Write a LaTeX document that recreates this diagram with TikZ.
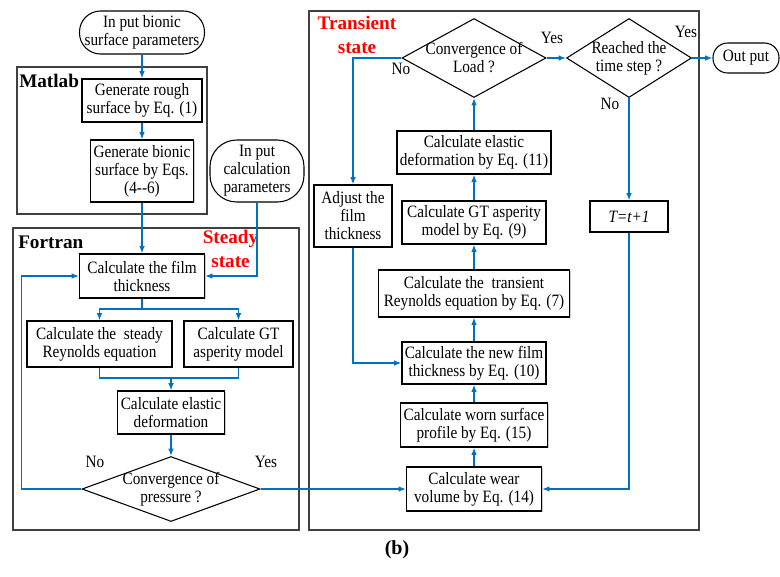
\documentclass[tikz,border=0pt]{standalone}
\usepackage{fontspec}
\setmainfont{Liberation Serif}
\newfontfamily\narrowserif[FakeStretch=0.88]{Liberation Serif}
\usetikzlibrary{arrows.meta,shapes.geometric,shadows}
\definecolor{flow}{RGB}{0,112,192}
\definecolor{frame}{RGB}{64,64,64}
\begin{document}
\begin{tikzpicture}[x=0.75pt,y=-0.75pt,
  every node/.style={font=\narrowserif\fontsize{13}{13.5}\selectfont},
  sz/.style 2 args={minimum width=#1*0.75pt, minimum height=#2*0.75pt},
  box/.style={rectangle, draw=black, line width=0.8pt, fill=white, align=center, inner sep=0pt,
    drop shadow={shadow xshift=1pt, shadow yshift=-1pt, fill=black, opacity=0.2}},
  oval/.style={rectangle, draw=black, line width=0.8pt, fill=white, align=center, inner sep=0pt},
  dia/.style={diamond, draw=black, line width=0.8pt, fill=white, inner sep=0pt},
  dtext/.style={font=\narrowserif\fontsize{13}{13.5}\selectfont, align=center},
  group/.style={draw=frame, line width=0.9pt},
  grplabel/.style={font=\rmfamily\fontsize{14.4}{18}\selectfont\bfseries, align=center, inner sep=0pt},
  redlabel/.style={grplabel, text=red},
  lbl/.style={inner sep=0pt},
  flowline/.style={draw=flow, line width=1.25pt},
  arr/.style={flowline, -{Latex[length=5.5pt,width=4.2pt]}}
]
\useasboundingbox (0,0) rectangle (780,576);

% group frames
\draw[group] (17,67) rectangle (207,214);
\draw[group] (13,228) rectangle (299,530);
\draw[group] (309,11) rectangle (699,530);

\node[grplabel, anchor=west] (lmatlab) at (19,81) {Matlab};
\node[grplabel, anchor=west] (lfortran) at (18,242) {Fortran};
\node[redlabel] (lsteady) at (230.5,249) {Steady\\state};
\node[redlabel] (ltrans) at (357,35) {Transient\\state};

% left column
\node[oval, rounded corners=15.75pt, sz={125}{43}] (in1) at (142,32.5) {In put bionic\\surface parameters};
\node[box, sz={120}{43}] (gr) at (142,100.5) {Generate rough\\surface by Eq. (1)};
\node[box, sz={103}{62}] (gb) at (142,171) {Generate bionic\\surface by Eqs.\\(4-{}-6)};
\node[oval, rounded corners=20pt, sz={94}{62}] (in2) at (257,171) {In put\\calculation\\parameters};
\node[box, sz={125}{44}] (film) at (142,276) {Calculate the film\\thickness};
\node[box, sz={145}{46}] (rey) at (99.5,344) {Calculate the~~steady\\Reynolds equation};
\node[box, sz={109}{46}] (gt) at (238.5,344) {Calculate GT\\asperity model};
\node[box, sz={107}{43}] (el) at (171,412.5) {Calculate elastic\\deformation};
\node[dia, sz={178}{65}, label={[dtext]center:Convergence of\\pressure ?}] (dp) at (171,489) {};
\node[lbl] (dpno) at (95,462) {No};
\node[lbl] (dpyes) at (266,462) {Yes};

% transient column
\node[dia, sz={144}{79}, label={[dtext]center:Convergence of\\Load ?}] (ld) at (474,58) {};
\node[dia, sz={125}{79}, label={[dtext]center:Reached the\\time step ?}] (ts) at (629,58) {};
\node[oval, rounded corners=11pt, sz={66}{30}] (out) at (746,58) {Out put};
\node[lbl] (ldno) at (401,69) {No};
\node[lbl] (ldyes) at (552,38) {Yes};
\node[lbl] (tsyes) at (686,32) {Yes};
\node[lbl] (tsno) at (610,104) {No};
\node[box, sz={154}{43}] (el11) at (474,152.5) {Calculate elastic\\deformation by Eq. (11)};
\node[box, sz={78}{62}] (adj) at (353,216) {Adjust the\\film\\thickness};
\node[box, sz={144}{43}] (gt9) at (474,222.5) {Calculate GT asperity\\model by Eq. (9)};
\node[box, sz={78}{31}] (tt) at (629,216.5) {\itshape T=t+1};
\node[box, sz={191}{47}] (trey) at (474,293.5) {Calculate the~~transient\\Reynolds equation by Eq. (7)};
\node[box, sz={144}{42}] (nf) at (474,363) {Calculate the new film\\thickness by Eq. (10)};
\node[box, sz={147}{44}] (worn) at (474,425) {Calculate worn surface\\profile by Eq. (15)};
\node[box, sz={135}{44}] (wear) at (474,489) {Calculate wear\\volume by Eq. (14)};

\node[font=\rmfamily\fontsize{15}{17}\selectfont\bfseries] (cap) at (397,550) {(b)};

% coordinates
\coordinate (split) at (142,309);
\coordinate (merge) at (171,378);

% connectors, left
\draw[arr] (in1.south) -- (gr.north);
\draw[arr] (gr.south) -- (gb.north);
\draw[arr] (gb.south) -- (film.north);
\draw[arr] (in2.south) |- (film.east);
\draw[flowline] (film.south) -- (split);
\draw[arr] (split) -| (rey.north);
\draw[arr] (split) -| (gt.north);
\draw[flowline] (rey.south) |- (merge) -| (gt.south);
\draw[arr] (merge) -- (el.north);
\draw[arr] (el.south) -- (dp.north);
\draw[arr] (dp.west) -- ++(-60,0) |- (film.west);
\draw[arr] (dp.east) -- (dp.east -| wear.west);

% connectors, transient
\draw[arr] (wear.north) -- (worn.south);
\draw[arr] (worn.north) -- (nf.south);
\draw[arr] (nf.north) -- (trey.south);
\draw[arr] (trey.north) -- (gt9.south);
\draw[arr] (gt9.north) -- (el11.south);
\draw[arr] (el11.north) -- (ld.south);
\draw[arr] (ld.west) -| (adj.north);
\draw[arr] (adj.south) |- (nf.west);
\draw[arr] (ld.east) -- (ts.west);
\draw[arr] (ts.east) -- (out.west);
\draw[arr] (ts.south) -- (tt.north);
\draw[arr] (tt.south) |- (wear.east);
\end{tikzpicture}
\end{document}
